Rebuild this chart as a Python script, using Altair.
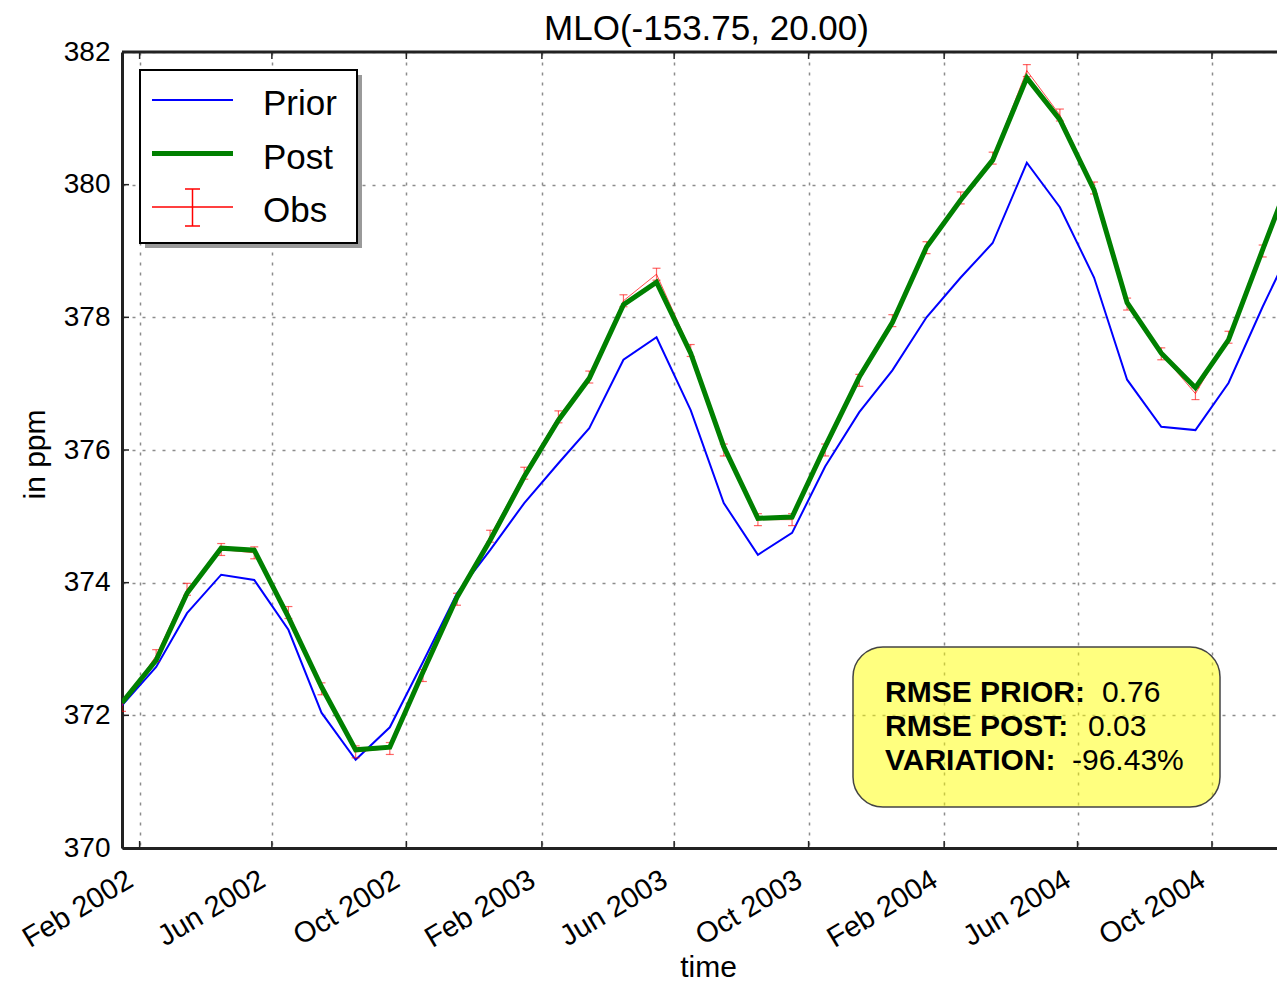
import altair as alt
import pandas as pd

# ---------------- data ----------------
dates = [
    "2002-01-16", "2002-02-16", "2002-03-16", "2002-04-16", "2002-05-16", "2002-06-16",
    "2002-07-16", "2002-08-16", "2002-09-16", "2002-10-16", "2002-11-16", "2002-12-16",
    "2003-01-16", "2003-02-16", "2003-03-16", "2003-04-16", "2003-05-16", "2003-06-16",
    "2003-07-16", "2003-08-16", "2003-09-16", "2003-10-16", "2003-11-16", "2003-12-16",
    "2004-01-16", "2004-02-16", "2004-03-16", "2004-04-16", "2004-05-16", "2004-06-16",
    "2004-07-16", "2004-08-16", "2004-09-16", "2004-10-16", "2004-11-16", "2004-12-16",
]
prior = [
    372.15, 372.73, 373.54, 374.12, 374.04, 373.29, 372.04, 371.33, 371.82, 372.80, 373.84, 374.49,
    375.20, 375.80, 376.33, 377.36, 377.70, 376.60, 375.20, 374.42, 374.75, 375.75, 376.57, 377.20,
    378.00, 378.60, 379.12, 380.33, 379.66, 378.60, 377.06, 376.35, 376.30, 377.01, 378.16, 379.20,
]
post = [
    372.19, 372.83, 373.84, 374.52, 374.49, 373.48, 372.43, 371.48, 371.52, 372.65, 373.78, 374.64,
    375.60, 376.45, 377.08, 378.19, 378.53, 377.46, 376.05, 374.97, 374.99, 376.05, 377.10, 377.92,
    379.06, 379.77, 380.37, 381.61, 380.98, 379.92, 378.22, 377.46, 376.94, 377.66, 379.02, 380.32,
]
obs = [
    372.15, 372.90, 373.90, 374.50, 374.45, 373.55, 372.40, 371.45, 371.50, 372.60, 373.75, 374.70,
    375.65, 376.50, 377.10, 378.25, 378.65, 377.50, 376.00, 374.95, 374.95, 376.00, 377.05, 377.95,
    379.05, 379.80, 380.40, 381.72, 381.05, 379.95, 378.20, 377.45, 376.85, 377.70, 379.00, 380.30,
]
obs_err = 0.09

tick_dates = ["2002-02-01", "2002-06-01", "2002-10-01", "2003-02-01", "2003-06-01",
              "2003-10-01", "2004-02-01", "2004-06-01", "2004-10-01"]
y_ticks = [370, 372, 374, 376, 378, 380, 382]

legend_labels = ["Prior", "Post", "Obs"]
legend_colors = ["#0000ff", "#008000", "#ff0000"]

title_text = "MLO(-153.75, 20.00)"
stat_labels = ["RMSE PRIOR:", "RMSE POST:", "VARIATION:"]
stat_values = ["0.76", "0.03", "-96.43%"]

# ---------------- layout ----------------
W, H = 1155, 796
PAD = {"left": 114, "top": 44, "right": 0, "bottom": 135}
FONT = "Liberation Sans"

df = pd.DataFrame({"date": dates, "prior": prior, "post": post, "obs": obs})
df["lo"] = df["obs"] - obs_err
df["hi"] = df["obs"] + obs_err
xt_df = pd.DataFrame({"t": tick_dates})
yt_df = pd.DataFrame({"v": y_ticks})

xscale = alt.Scale(
    type="utc",
    domain=[alt.DateTime(year=2002, month=1, date=16, utc=True),
            alt.DateTime(year=2004, month=11, date=29, utc=True)],
)
yscale = alt.Scale(domain=[370, 382], nice=False, zero=False)

grid_kw = dict(grid=True, gridColor="#8c8c8c", gridDash=[3, 7], gridWidth=1.5, gridOpacity=1)


def _dt(s):
    y, m, d = (int(p) for p in s.split("-"))
    return alt.DateTime(year=y, month=m, date=d, utc=True)


xaxis = alt.Axis(
    values=[_dt(s) for s in tick_dates],
    labelExpr="utcFormat(datum.value, '%b %Y')",
    title="time", titleFont=FONT, titleFontSize=30, titleFontWeight="normal", titleColor="black",
    titleX=586, titleY=128, titleBaseline="alphabetic", titleAlign="center",
    labelFont=FONT, labelFontSize=29, labelColor="black", labelAngle=-31,
    labelAlign="right", labelBaseline="top", labelPadding=17, labelOffset=-17,
    labelOverlap=False, labelFlush=False, labelBound=False,
    ticks=False, domainColor="#222222", domainWidth=3, **grid_kw,
)
yaxis = alt.Axis(
    values=y_ticks, format="d",
    title="in ppm", titleFont=FONT, titleFontSize=30, titleFontWeight="normal", titleColor="black",
    titleX=-87, titleY=402, titleBaseline="middle", titleAlign="center", titleAngle=-90,
    labelFont=FONT, labelFontSize=28, labelColor="black", labelPadding=12,
    labelFlush=False, labelOverlap=False,
    ticks=False, domainColor="#222222", domainWidth=3, **grid_kw,
)

X = alt.X("date:T", scale=xscale, axis=xaxis)


def Y(field):
    return alt.Y(f"{field}:Q", scale=yscale, axis=yaxis)


base = alt.Chart(df)
prior_line = base.mark_line(color="#0000ff", strokeWidth=2, clip=True).encode(x=X, y=Y("prior"))
obs_line = base.mark_line(color="#ff0000", strokeWidth=1, opacity=0.7, clip=True).encode(x=X, y=Y("obs"))
obs_bar = base.mark_rule(color="#ff0000", strokeWidth=1.2, opacity=0.6, clip=True).encode(
    x=X, y=Y("lo"), y2="hi:Q")
cap_hi = base.mark_rule(color="#ff0000", strokeWidth=1.2, opacity=0.6, xOffset=-4, x2Offset=4,
                        clip=True).encode(x=X, x2="date:T", y=Y("hi"))
cap_lo = base.mark_rule(color="#ff0000", strokeWidth=1.2, opacity=0.6, xOffset=-4, x2Offset=4,
                        clip=True).encode(x=X, x2="date:T", y=Y("lo"))
post_line = base.mark_line(color="#008000", strokeWidth=5, clip=True).encode(x=X, y=Y("post"))

# inward tick marks (matplotlib style)
XT = alt.X("t:T", scale=xscale, axis=xaxis)
xt_bottom = alt.Chart(xt_df).mark_rule(color="#222222", strokeWidth=1.5).encode(
    x=XT, y=alt.value(H), y2=alt.value(H - 7))
xt_top = alt.Chart(xt_df).mark_rule(color="#222222", strokeWidth=1.5).encode(
    x=XT, y=alt.value(0), y2=alt.value(7))
yt_left = alt.Chart(yt_df).mark_rule(color="#222222", strokeWidth=1.5).encode(
    y=alt.Y("v:Q", scale=yscale, axis=yaxis), x=alt.value(0), x2=alt.value(7))

dummy = alt.Chart(pd.DataFrame({"a": [0]}))

layers = [prior_line, obs_line, obs_bar, cap_hi, cap_lo, post_line, xt_bottom, xt_top, yt_left]

# top frame line
layers.append(dummy.mark_rule(color="#222222", strokeWidth=3).encode(
    x=alt.value(0), x2=alt.value(W), y=alt.value(0)))

# legend box with shadow
layers.append(dummy.mark_rect(fill="#9a9a9a").encode(
    x=alt.value(23), x2=alt.value(240), y=alt.value(23), y2=alt.value(196)))
layers.append(dummy.mark_rect(fill="white", stroke="black", strokeWidth=2).encode(
    x=alt.value(18), x2=alt.value(235), y=alt.value(18), y2=alt.value(191)))
widths = [2, 5, 1.5]
for i, (lab, col) in enumerate(zip(legend_labels, legend_colors)):
    ly = 48 + 53.5 * i
    layers.append(dummy.mark_rule(color=col, strokeWidth=widths[i]).encode(
        x=alt.value(30), x2=alt.value(111), y=alt.value(ly)))
    layers.append(dummy.mark_text(text=lab, font=FONT, fontSize=35, align="left",
                                  baseline="alphabetic", color="black").encode(
        x=alt.value(141), y=alt.value(ly + 15)))
# legend error bar for Obs
ly3 = 48 + 53.5 * 2
layers.append(dummy.mark_rule(color="#ff0000", strokeWidth=1.5).encode(
    x=alt.value(70.5), y=alt.value(ly3 - 18), y2=alt.value(ly3 + 19)))
for yy in (ly3 - 18, ly3 + 19):
    layers.append(dummy.mark_rule(color="#ff0000", strokeWidth=1.5).encode(
        x=alt.value(63), x2=alt.value(78), y=alt.value(yy)))

# stats box
layers.append(dummy.mark_rect(fill="#ffff00", fillOpacity=0.5, stroke="#444444", strokeWidth=1.5,
                              cornerRadius=30).encode(
    x=alt.value(731), x2=alt.value(1098), y=alt.value(595), y2=alt.value(755)))
val_x = [980, 966, 950]
for i, (lab, val) in enumerate(zip(stat_labels, stat_values)):
    yy = 650 + 34 * i
    layers.append(dummy.mark_text(text=lab, font=FONT, fontSize=30, fontWeight="bold", align="left",
                                  baseline="alphabetic", color="black").encode(
        x=alt.value(763), y=alt.value(yy)))
    layers.append(dummy.mark_text(text=val, font=FONT, fontSize=30, align="left",
                                  baseline="alphabetic", color="black").encode(
        x=alt.value(val_x[i]), y=alt.value(yy)))

# title
layers.append(dummy.mark_text(text=title_text, font=FONT, fontSize=35, align="center",
                              baseline="alphabetic", color="black").encode(
    x=alt.value(584.5), y=alt.value(-12)))

chart = alt.layer(*layers).properties(
    width=W, height=H, padding=PAD, autosize=alt.AutoSizeParams(type="none"),
    background="white",
).configure_view(stroke=None)

chart.save("out.html", embed_options={"renderer": "svg", "actions": False})
